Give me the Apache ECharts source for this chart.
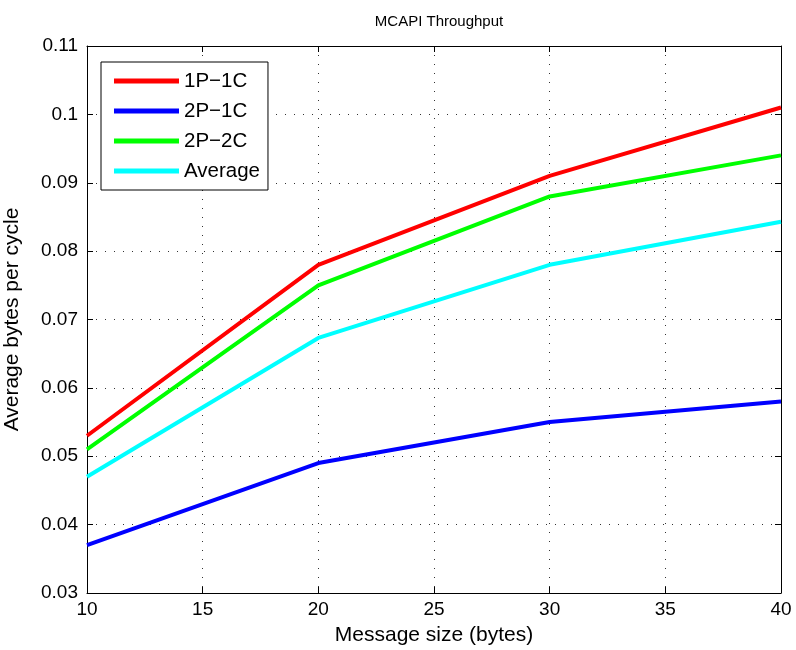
<!DOCTYPE html>
<html>
<head>
<meta charset="utf-8">
<script src="https://cdn.jsdelivr.net/npm/echarts@6/dist/echarts.min.js"></script>
<style>
  html, body { margin: 0; padding: 0; background: #fff; }
  #chart { width: 796px; height: 650px; }
</style>
</head>
<body>
<div id="chart"></div>
<script>
// message sizes (bytes)
var sizes = [10, 20, 30, 40];
var oneP1C = [0.053, 0.078, 0.091, 0.101];
var twoP1C = [0.037, 0.049, 0.055, 0.058];
var twoP2C = [0.051, 0.075, 0.088, 0.094];
var average = [0.047, 0.0673, 0.078, 0.0843];

var seriesNames = ['1P\u22121C', '2P\u22121C', '2P\u22122C', 'Average'];
var seriesColors = ['#ff0000', '#0000ff', '#00ff00', '#00ffff'];
var seriesData = [oneP1C, twoP1C, twoP2C, average];

var font = 'Liberation Sans, Arial, Helvetica, sans-serif';

function pairs(ys) {
    return sizes.map(function (x, i) { return [x, ys[i]]; });
}

var gridLine = {
    show: true,
    lineStyle: { color: '#333', width: 1, type: [1, 8] }
};

var chart = echarts.init(document.getElementById('chart'));
chart.setOption({
    animation: false,
    textStyle: { fontFamily: font },
    title: {
        text: 'MCAPI Throughput',
        left: 434,
        textAlign: 'center',
        top: 9,
        textStyle: { fontFamily: font, fontSize: 15, fontWeight: 'normal', color: '#000' }
    },
    grid: { left: 87, right: 15, top: 46, bottom: 57, containLabel: false, outerBoundsMode: 'none' },
    legend: {
        data: seriesNames,
        orient: 'vertical',
        left: 101,
        top: 62,
        padding: [8, 8, 8, 13],
        itemGap: 8,
        itemWidth: 65,
        itemHeight: 5,
        icon: 'rect',
        backgroundColor: '#fff',
        borderColor: '#000',
        borderWidth: 1,
        textStyle: { fontFamily: font, fontSize: 20.5, color: '#000', lineHeight: 22 }
    },
    xAxis: [{
        type: 'value',
        min: 10,
        max: 40,
        interval: 5,
        name: 'Message size (bytes)',
        nameLocation: 'middle',
        nameGap: 32,
        nameTextStyle: { fontFamily: font, fontSize: 21, color: '#000' },
        axisLine: { lineStyle: { color: '#000', width: 1 } },
        axisTick: { inside: true, length: 6, lineStyle: { color: '#000' } },
        axisLabel: { fontFamily: font, fontSize: 19, color: '#000', margin: 7 },
        splitLine: gridLine
    }, {
        type: 'value',
        position: 'top',
        min: 10,
        max: 40,
        interval: 5,
        axisLine: { lineStyle: { color: '#000', width: 1 } },
        axisTick: { inside: true, length: 6, lineStyle: { color: '#000' } },
        axisLabel: { show: false },
        splitLine: { show: false }
    }],
    yAxis: [{
        type: 'value',
        min: 0.03,
        max: 0.11,
        interval: 0.01,
        name: 'Average bytes per cycle',
        nameLocation: 'middle',
        nameGap: 64,
        nameTextStyle: { fontFamily: font, fontSize: 21, color: '#000' },
        axisLine: { show: true, lineStyle: { color: '#000', width: 1 } },
        axisTick: { show: true, inside: true, length: 6, lineStyle: { color: '#000' } },
        axisLabel: {
            fontFamily: font, fontSize: 19, color: '#000', margin: 9,
            formatter: function (v) { return String(+v.toFixed(3)); }
        },
        splitLine: gridLine
    }, {
        type: 'value',
        position: 'right',
        min: 0.03,
        max: 0.11,
        interval: 0.01,
        axisLine: { show: true, lineStyle: { color: '#000', width: 1 } },
        axisTick: { show: true, inside: true, length: 6, lineStyle: { color: '#000' } },
        axisLabel: { show: false },
        splitLine: { show: false }
    }],
    series: seriesNames.map(function (name, i) {
        return {
            name: name,
            type: 'line',
            data: pairs(seriesData[i]),
            showSymbol: false,
            symbol: 'none',
            color: seriesColors[i],
            lineStyle: { color: seriesColors[i], width: 4 },
            z: 3
        };
    })
});
</script>
</body>
</html>
